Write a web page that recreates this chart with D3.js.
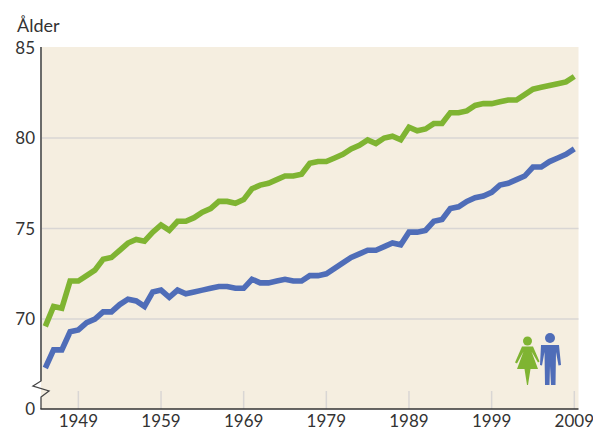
<!DOCTYPE html>
<html><head><meta charset="utf-8">
<script src="https://cdn.jsdelivr.net/npm/d3@7"></script>
<style>html,body{margin:0;background:#fff}svg{display:block}text{font-family:Lato,"Open Sans",sans-serif;fill:#333}</style>
</head><body><div id="c"></div>
<script>
const startYear = 1945;
const women = [69.6,70.7,70.6,72.1,72.1,72.4,72.7,73.3,73.4,73.8,74.2,74.4,74.3,74.8,75.2,74.9,75.4,75.4,75.6,75.9,76.1,76.5,76.5,76.4,76.6,77.2,77.4,77.5,77.7,77.9,77.9,78.0,78.6,78.7,78.7,78.9,79.1,79.4,79.6,79.9,79.7,80.0,80.1,79.9,80.6,80.4,80.5,80.8,80.8,81.4,81.4,81.5,81.8,81.9,81.9,82.0,82.1,82.1,82.4,82.7,82.8,82.9,83.0,83.1,83.4];
const men = [67.3,68.3,68.3,69.3,69.4,69.8,70.0,70.4,70.4,70.8,71.1,71.0,70.7,71.5,71.6,71.2,71.6,71.4,71.5,71.6,71.7,71.8,71.8,71.7,71.7,72.2,72.0,72.0,72.1,72.2,72.1,72.1,72.4,72.4,72.5,72.8,73.1,73.4,73.6,73.8,73.8,74.0,74.2,74.1,74.8,74.8,74.9,75.4,75.5,76.1,76.2,76.5,76.7,76.8,77.0,77.4,77.5,77.7,77.9,78.4,78.4,78.7,78.9,79.1,79.4];
const yearTicks = [1949,1959,1969,1979,1989,1999,2009];
const gridValues = [70,75,80];
const valueLabels = [0,70,75,80,85];
const yAxisTitle = "Ålder";

const W=593,H=431;
const svg=d3.select("#c").append("svg").attr("width",W).attr("height",H);
const x=d3.scaleLinear().domain([1945,2009]).range([45.3,574.3]);
const y=d3.scaleLinear().domain([0,66,85]).range([409,391.5,47.5]);
const left=41,right=578.5,top0=47,bottom=409;

svg.append("rect").attr("x",left).attr("y",top0).attr("width",right-left).attr("height",bottom-top0).attr("fill","#f5eee0");

svg.append("g").selectAll("line").data(gridValues).join("line")
 .attr("x1",left).attr("x2",right).attr("y1",d=>y(d)).attr("y2",d=>y(d))
 .attr("stroke","#d9d6d4").attr("stroke-width",1.5);
svg.append("g").selectAll("line").data(yearTicks).join("line")
 .attr("x1",d=>x(d)).attr("x2",d=>x(d)).attr("y1",391).attr("y2",bottom)
 .attr("stroke","#d9d6d4").attr("stroke-width",1.5);

const line=d3.line().x((d,i)=>x(startYear+i)).y(d=>y(d));
svg.append("path").datum(women).attr("d",line).attr("fill","none").attr("stroke","#7fb432").attr("stroke-width",5.6).attr("stroke-linejoin","miter");
svg.append("path").datum(men).attr("d",line).attr("fill","none").attr("stroke","#4f6db8").attr("stroke-width",5.6).attr("stroke-linejoin","miter");

// axes
svg.append("path").attr("d",`M${left},47V381L33,386L49,391L41,397V409`).attr("fill","none").attr("stroke","#444").attr("stroke-width",1.3);
svg.append("line").attr("x1",left-0.6).attr("x2",right).attr("y1",bottom).attr("y2",bottom).attr("stroke","#333").attr("stroke-width",1.5);
svg.append("line").attr("x1",left).attr("x2",left).attr("y1",47).attr("y2",381).attr("stroke","#666").attr("stroke-width",1.6);

svg.append("g").selectAll("text").data(valueLabels).join("text")
 .attr("x",35).attr("y",d=>y(d)).attr("dy","0.36em").attr("text-anchor","end")
 .attr("font-size",17).text(d=>d);
svg.append("g").selectAll("text").data(yearTicks).join("text")
 .attr("x",d=>x(d)).attr("y",427).attr("text-anchor","middle")
 .attr("font-size",17).text(d=>d);
svg.append("text").attr("x",17).attr("y",32).attr("font-size",18).text(yAxisTitle);

// pictograms
const icons=svg.append("g");
icons.append("circle").attr("cx",527.5).attr("cy",341).attr("r",4.5).attr("fill","#7fb432");
icons.append("path").attr("d","M522,346.5H533L539.5,361.5L538,362.5L531.5,351.5L538,369H530.5L528,385H527L524.5,369H517L523.5,351.5L517,363.5L515,362.5Z").attr("fill","#7fb432");
icons.append("circle").attr("cx",550).attr("cy",338).attr("r",5).attr("fill","#4f6db8");
icons.append("path").attr("d","M541,345H559L561,365L558.5,365.5L556,352L555.5,385H551L550,366L549.5,385H545L544.5,352L542,365.5L540,365Z").attr("fill","#4f6db8");
</script></body></html>
